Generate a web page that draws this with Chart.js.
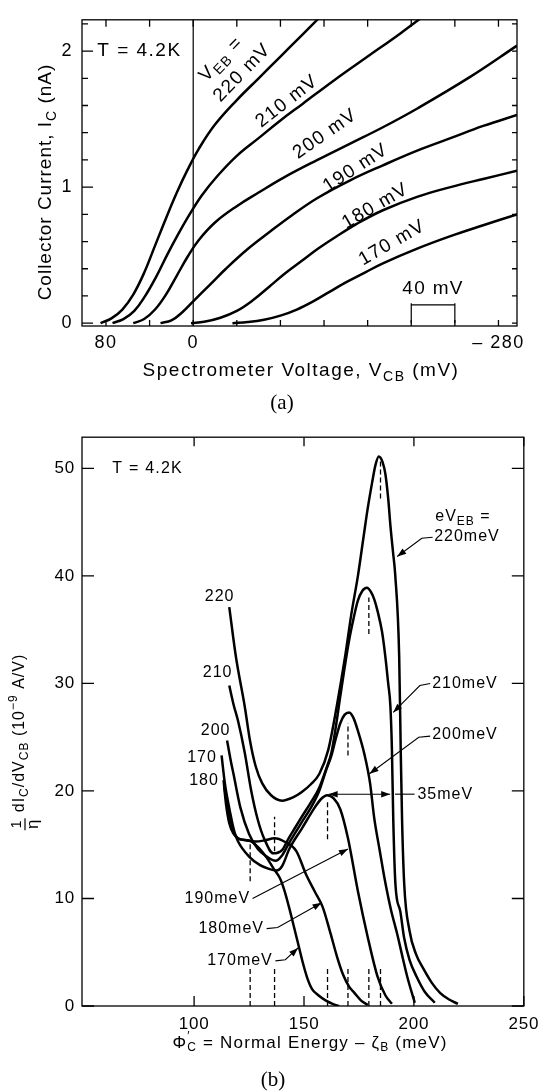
<!DOCTYPE html>
<html>
<head>
<meta charset="utf-8">
<title>Collector current and its derivative, T = 4.2K</title>
<script src="https://cdn.jsdelivr.net/npm/chart.js@4.4.1/dist/chart.umd.min.js"></script>
<style>
  html, body { margin: 0; padding: 0; background: #fff; }
  #page { position: relative; width: 546px; height: 1092px; overflow: hidden; }
  canvas { position: absolute; left: 0; }
  #chartA { top: 0; }
  #chartB { top: 420px; }
</style>
</head>
<body>
<div id="page">
  <canvas id="chartA" width="546" height="420"></canvas>
  <canvas id="chartB" width="546" height="672"></canvas>
</div>
<script>
// ---- (a) collector current I_C (nA) vs spectrometer voltage V_CB (mV) ----
const a220V = [85, 75, 65, 55, 45, 35, 25, 15, 5, -5, -20, -40, -60, -80, -100, -115];
const a220I = [0, 0.035, 0.1, 0.21, 0.37, 0.57, 0.77, 0.96, 1.13, 1.28, 1.46, 1.64, 1.8, 1.96, 2.12, 2.24];
const a210V = [74, 64, 54, 44, 34, 24, 14, 4, -8, -22, -40, -60, -80, -100, -130, -160, -190, -215];
const a210I = [0, 0.03, 0.09, 0.2, 0.34, 0.5, 0.65, 0.79, 0.94, 1.08, 1.23, 1.36, 1.49, 1.61, 1.79, 1.96, 2.13, 2.28];
const a200V = [55, 45, 35, 25, 15, 5, -5, -20, -40, -60, -83, -114, -144, -174, -206, -254, -297];
const a200I = [0, 0.03, 0.1, 0.21, 0.35, 0.49, 0.61, 0.74, 0.86, 0.96, 1.07, 1.2, 1.32, 1.44, 1.58, 1.81, 2.04];
const a190V = [30, 20, 10, 0, -15, -30, -50, -70, -90, -114, -144, -174, -206, -236, -266, -297];
const a190I = [0, 0.02, 0.08, 0.16, 0.28, 0.4, 0.545, 0.67, 0.79, 0.92, 1.05, 1.16, 1.27, 1.36, 1.45, 1.53];
const a180V = [2, -10, -25, -40, -55, -70, -85, -100, -115, -130, -150, -174, -206, -236, -266, -297];
const a180I = [0, 0.01, 0.04, 0.09, 0.17, 0.27, 0.37, 0.46, 0.55, 0.63, 0.73, 0.83, 0.93, 1.0, 1.06, 1.12];
const a170V = [-36, -50, -65, -80, -95, -110, -125, -140, -157, -174, -206, -236, -266, -297];
const a170I = [0, 0.008, 0.025, 0.055, 0.1, 0.16, 0.23, 0.3, 0.37, 0.44, 0.55, 0.64, 0.72, 0.8];

const aTickX = [80, 40, 0, -40, -80, -120, -160, -200, -240, -280];
const aTickXLabels = ['80', '', '0', '', '', '', '', '', '', '\u2013 280'];
const aTickY = [0, 0.2, 0.4, 0.6, 0.8, 1, 1.2, 1.4, 1.6, 1.8, 2, 2.2];
const aTickYLabels = ['0', '', '', '', '', '1', '', '', '', '', '2', ''];

// ---- (b) (1/eta) dI_C/dV_CB (1e-9 A/V) vs normal energy (meV) ----
const b220E = [116, 119, 123, 125.5, 128, 131, 135, 140, 145, 149, 153, 157, 161, 165, 168.7, 171.5, 174.6, 177, 179, 181, 182.5, 184, 185.7, 187, 188.3, 189.3, 190.5, 191.5, 193.3, 194, 194.6, 195.6, 198, 201, 204.5, 208, 212, 216, 220];
const b220G = [37.1, 32.5, 27.9, 24.6, 22.3, 20.7, 19.6, 19.1, 19.4, 19.9, 20.6, 21.6, 23.8, 28.0, 32.5, 36.4, 40.1, 43.5, 46.3, 48.7, 50.3, 51.1, 50.6, 49.5, 47.2, 44.7, 42.2, 40.1, 32.5, 23.8, 17.4, 11.3, 7.0, 4.8, 3.4, 2.2, 1.2, 0.6, 0.2];
const b210E = [116, 118, 120, 123, 126, 129, 132, 136, 140, 143, 146, 149, 153, 156.7, 160, 162.5, 164.5, 166.5, 168.5, 170.5, 172.5, 174.5, 176.5, 178.6, 180.5, 182, 183.5, 185.5, 187, 188.3, 189.3, 190, 190.6, 191.6, 193.8, 195.5, 198, 201.3, 205, 209.5];
const b210G = [29.8, 28, 26.5, 23.6, 20, 17.3, 15.5, 14.2, 14.5, 15.6, 16.6, 17.6, 18.9, 20.2, 22, 23.6, 26, 28.8, 31.5, 34, 36, 37.7, 38.6, 38.9, 38.5, 37.8, 36.7, 34.8, 32.5, 30, 27.9, 23.8, 17.4, 11.3, 8.8, 6.4, 4.3, 2.7, 1.3, 0.3];
const b200E = [115, 116.5, 118, 121, 125, 129, 133, 137, 140, 143.3, 146, 149, 153, 156.7, 160, 162.5, 164.5, 166.5, 168.5, 170.5, 172.5, 174.5, 177.5, 180, 182, 184.5, 186.6, 189.5, 192.4, 195, 197, 200.4];
const b200G = [24.7, 23, 21.5, 18.5, 16, 14.6, 13.9, 13.5, 14.0, 15.2, 16.1, 17.1, 18.4, 19.9, 21.9, 23.3, 24.9, 26.3, 27.1, 27.3, 26.8, 25.6, 23.4, 20.8, 17.4, 14.4, 11.9, 9.0, 6.7, 4.4, 2.7, 0.3];
const b190E = [113.8, 115, 117, 120, 125, 130, 134, 137.4, 140, 143.3, 149, 155, 158, 160.5, 163.5, 166.5, 170, 174.5, 179, 183.5, 187, 190];
const b190G = [20.3, 18.8, 16.9, 15.3, 13.9, 13.1, 12.75, 12.6, 13.0, 14.6, 16.5, 18.5, 19.3, 19.6, 19.3, 18.3, 15.6, 10.7, 6.4, 2.7, 1.0, 0.2];
const b180E = [113.4, 114.5, 116, 118, 120, 124, 128, 132, 136.6, 141, 146.5, 151, 155, 158.5, 162, 165, 167.8, 170.5, 173, 176, 179];
const b180G = [21, 18.8, 17.0, 16.0, 15.6, 15.4, 15.3, 15.4, 15.6, 15.3, 14.4, 12.2, 10.6, 9.2, 6.8, 4.6, 2.9, 1.8, 1.2, 0.5, 0.1];
const b170E = [112.5, 114, 116, 118.8, 121, 125, 129, 133, 136.1, 139, 141, 143.3, 145.5, 147.8, 149.5, 151.5, 153.6, 156.5, 160, 163, 166];
const b170G = [23.3, 20.7, 18.4, 15.9, 15.5, 15.4, 14.8, 13.8, 12.8, 11.9, 10.8, 9.1, 7.3, 5.4, 4.0, 2.6, 1.6, 1.0, 0.5, 0.2, 0];

// peak positions (dashed markers) and the marker spans
const bPeakE = [125.5, 136.6, 160.7, 170, 179.5, 184.8];
const bPeakLo = [11.6, 14.4, 15.5, 23.3, 34.6, 47.2];
const bPeakHi = [15.4, 17.6, 19.2, 26.3, 38, 50.9];
const bBaseMark = 3.6;

const bTickX = [100, 150, 200, 250];
const bTickXLabels = ['100', '150', '200', '250'];
const bTickY = [0, 10, 20, 30, 40, 50];
const bTickYLabels = ['0', '10', '20', '30', '40', '50'];

// axis ranges
const aXMin = -297, aXMax = 102, aYMin = -0.021, aYMax = 2.23;
const bXMin = 49, bXMax = 250, bYMin = 0, bYMax = 52.9;

const SANS = '"Liberation Sans", Arial, Helvetica, sans-serif';
const SERIF = '"Liberation Serif", "Times New Roman", serif';
Chart.defaults.font.family = SANS;
Chart.defaults.color = '#000';

function pts(xs, ys) {
    return xs.map((x, i) => ({ x: x, y: ys[i] }));
}

function curve(xs, ys, mode) {
    return {
        data: pts(xs, ys), borderColor: '#000', borderWidth: 2.5, pointRadius: 0, fill: false,
        cubicInterpolationMode: mode, tension: 0.4
    };
}

// text with sub/superscripts; parts are strings or {t, sub, sup, keep}
function segFont(s, size, family) {
    return ((s.sub || s.sup) ? Math.round(size * 0.72) : size) + 'px ' + (family || SANS);
}
function measure(ctx, parts, o) {
    let w = 0;
    ctx.save();
    ctx.letterSpacing = (o.sp || 0) + 'px';
    parts.forEach(p => {
        const s = typeof p === 'string' ? { t: p } : p;
        ctx.font = segFont(s, o.size, o.family);
        if (!s.keep) w += ctx.measureText(s.t).width;
    });
    ctx.restore();
    return w;
}
function label(ctx, parts, x, y, o) {
    const w = measure(ctx, parts, o);
    ctx.save();
    ctx.translate(x, y);
    if (o.rot) ctx.rotate(o.rot * Math.PI / 180);
    ctx.letterSpacing = (o.sp || 0) + 'px';
    ctx.fillStyle = '#000';
    ctx.textAlign = 'left';
    ctx.textBaseline = 'middle';
    let cx = o.align === 'left' ? 0 : o.align === 'right' ? -w : -w / 2;
    parts.forEach(p => {
        const s = typeof p === 'string' ? { t: p } : p;
        ctx.font = segFont(s, o.size, o.family);
        const dy = s.sub ? o.size * 0.3 : s.sup ? -o.size * 0.38 : 0;
        ctx.fillText(s.t, cx, dy);
        if (!s.keep) cx += ctx.measureText(s.t).width;
    });
    ctx.restore();
}

function head(ctx, from, to) {
    const a = Math.atan2(to[1] - from[1], to[0] - from[0]), L = 9, W = 3.2;
    const c = Math.cos(a), s = Math.sin(a);
    ctx.beginPath();
    ctx.moveTo(to[0], to[1]);
    ctx.lineTo(to[0] - L * c + W * s, to[1] - L * s - W * c);
    ctx.lineTo(to[0] - L * c - W * s, to[1] - L * s + W * c);
    ctx.closePath();
    ctx.fill();
}
function arrow(ctx, p, heads) {
    ctx.beginPath();
    p.forEach((q, i) => i ? ctx.lineTo(q[0], q[1]) : ctx.moveTo(q[0], q[1]));
    ctx.stroke();
    if (heads === 'end' || heads === 'both') head(ctx, p[p.length - 2], p[p.length - 1]);
    if (heads === 'both') head(ctx, p[1], p[0]);
}

// box, inward ticks on all four sides, then the notes
function framePlugin(o) {
    return {
        id: 'frame',
        beforeDraw(chart) { chart.ctx.letterSpacing = o.sp + 'px'; },
        afterDraw(chart) {
            const ctx = chart.ctx, a = chart.chartArea, xs = chart.scales.x, ys = chart.scales.y;
            ctx.save();
            ctx.letterSpacing = '0px';
            ctx.strokeStyle = '#000';
            ctx.lineWidth = 1.3;
            ctx.strokeRect(a.left, a.top, a.right - a.left, a.bottom - a.top);
            ctx.beginPath();
            ys.ticks.forEach((t, i) => {
                const p = ys.getPixelForValue(t.value);
                ctx.moveTo(a.left, p);
                ctx.lineTo(a.left + (o.yBig(i) ? o.yLen : o.yLenMinor), p);
                ctx.moveTo(a.right, p);
                ctx.lineTo(a.right - o.yLenRight, p);
            });
            xs.ticks.forEach(t => {
                const p = xs.getPixelForValue(t.value);
                ctx.moveTo(p, a.bottom);
                ctx.lineTo(p, a.bottom - o.xLen);
                ctx.moveTo(p, a.top);
                ctx.lineTo(p, a.top + o.xLenTop);
            });
            ctx.stroke();
            ctx.restore();
            ctx.save();
            ctx.strokeStyle = '#000';
            ctx.fillStyle = '#000';
            o.notes(chart, ctx, v => xs.getPixelForValue(v), v => ys.getPixelForValue(v));
            ctx.restore();
        }
    };
}

// ---- notes for (a) ----
const aNotes = [
    { parts: ['V', { t: 'EB', sub: 1 }, ' ='], x: -25.7, y: 1.94, rot: -46 },
    { parts: ['220 mV'], x: -45, y: 1.84, rot: -46 },
    { parts: ['210 mV'], x: -86, y: 1.63, rot: -38 },
    { parts: ['200 mV'], x: -121, y: 1.39, rot: -35 },
    { parts: ['190 mV'], x: -149, y: 1.14, rot: -33 },
    { parts: ['180 mV'], x: -167, y: 0.86, rot: -30 },
    { parts: ['170 mV'], x: -182.5, y: 0.59, rot: -30 }
];
const aBarFrom = -200, aBarTo = -240, aBarLevel = 0.134;

function notesA(chart, ctx, X, Y) {
    label(ctx, ['T = 4.2K'], X(88), Y(2.0), { size: 19, sp: 1.5, align: 'left' });
    aNotes.forEach(n => label(ctx, n.parts, X(n.x), Y(n.y), { size: 19, sp: 1.3, rot: n.rot }));
    // 40 mV scale bar
    ctx.lineWidth = 1.2;
    ctx.beginPath();
    ctx.moveTo(X(aBarFrom), Y(0));
    ctx.lineTo(X(aBarFrom), Y(aBarLevel + 0.012));
    ctx.moveTo(X(aBarFrom), Y(aBarLevel));
    ctx.lineTo(X(aBarTo), Y(aBarLevel));
    ctx.moveTo(X(aBarTo), Y(0));
    ctx.lineTo(X(aBarTo), Y(aBarLevel + 0.012));
    ctx.stroke();
    label(ctx, ['40 mV'], X((aBarFrom + aBarTo) / 2), Y(0.25), { size: 19, sp: 1.3 });
    // axis titles and panel tag
    label(ctx, ['Collector Current, I', { t: 'C', sub: 1 }, ' (nA)'], 46, 182, { size: 19, sp: 1, rot: -90 });
    label(ctx, ['Spectrometer Voltage, V', { t: 'CB', sub: 1 }, ' (mV)'], 301, 371, { size: 19, sp: 1.5 });
    label(ctx, ['(a)'], 282, 403, { size: 21, family: SERIF });
}

// ---- notes for (b) ----
const bStartNotes = [
    { t: '220', x: 111.6, y: 38.1 },
    { t: '210', x: 110.7, y: 31.0 },
    { t: '200', x: 109.8, y: 25.6 },
    { t: '170', x: 103.6, y: 23.1 },
    { t: '180', x: 104.5, y: 21.0 }
];
const bSideNotes = [
    { parts: ['eV', { t: 'EB', sub: 1 }, ' ='], x: 209.7, y: 45.5, align: 'left' },
    { parts: ['220meV'], x: 209.2, y: 43.7, align: 'left' },
    { parts: ['210meV'], x: 208.3, y: 30.0, align: 'left' },
    { parts: ['200meV'], x: 208.3, y: 25.2, align: 'left' },
    { parts: ['35meV'], x: 201.6, y: 19.7, align: 'left' },
    { parts: ['190meV'], x: 125.5, y: 10.0, align: 'right' },
    { parts: ['180meV'], x: 131.8, y: 7.2, align: 'right' },
    { parts: ['170meV'], x: 135.8, y: 4.2, align: 'right' }
];
const bArrows = [
    { p: [[208.5, 43.6], [203.6, 43.5], [192.4, 41.8]], h: 'end' },
    { p: [[207.4, 30.0], [202.7, 29.8], [190.6, 27.3]], h: 'end' },
    { p: [[207.4, 25.1], [202.2, 25.0], [179.8, 21.6]], h: 'end' },
    { p: [[161.2, 19.7], [189.2, 19.7]], h: 'both' },
    { p: [[191.4, 19.7], [200.3, 19.7]], h: 'none' },
    { p: [[126.6, 10.0], [170.0, 14.6]], h: 'end' },
    { p: [[133.0, 7.2], [138.0, 7.3], [158.0, 9.6]], h: 'end' },
    { p: [[137.0, 4.2], [141.5, 4.3], [147.3, 5.4]], h: 'end' }
];

function titleYB(ctx) {
    const size = 16;
    const main = ['dI', { t: 'C', sub: 1 }, '/dV', { t: 'CB', sub: 1 }, ' (10', { t: '\u22129', sup: 1 }, ' A/V)'];
    const mw = measure(ctx, main, { size: size, sp: 1 });
    const fw = 12, gap = 6, x0 = -(fw + gap + mw) / 2;
    ctx.save();
    ctx.translate(20, 322);
    ctx.rotate(-Math.PI / 2);
    ctx.lineWidth = 1.2;
    ctx.beginPath();
    ctx.moveTo(x0, 5);
    ctx.lineTo(x0 + fw, 5);
    ctx.stroke();
    label(ctx, ['1'], x0 + fw / 2, -3, { size: 14 });
    label(ctx, ['\u03b7'], x0 + fw / 2, 13, { size: 17 });
    label(ctx, main, x0 + fw + gap, 0, { size: size, sp: 1, align: 'left' });
    ctx.restore();
}

function notesB(chart, ctx, X, Y) {
    label(ctx, ['T = 4.2K'], X(62.8), Y(50), { size: 16, sp: 1.2, align: 'left' });
    bStartNotes.forEach(n => label(ctx, [n.t], X(n.x), Y(n.y), { size: 16, sp: 1 }));
    bSideNotes.forEach(n => label(ctx, n.parts, X(n.x), Y(n.y), { size: 16, sp: 1, align: n.align }));
    ctx.lineWidth = 1.1;
    bArrows.forEach(a => arrow(ctx, a.p.map(q => [X(q[0]), Y(q[1])]), a.h));
    titleYB(ctx);
    label(ctx, ['\u03a6', { t: '\u2032', sup: 1, keep: 1 }, { t: 'C', sub: 1 }, ' = Normal Energy \u2013 \u03b6', { t: 'B', sub: 1 }, ' (meV)'],
        310, 623, { size: 17, sp: 1.2 });
    label(ctx, ['(b)'], 273, 660, { size: 21, family: SERIF });
}

document.addEventListener('DOMContentLoaded', function() {
    // panel (a)
    const aSets = [
        { data: [{ x: 0, y: aYMin }, { x: 0, y: aYMax }], borderColor: '#000', borderWidth: 1.2, pointRadius: 0, fill: false },
        curve(a220V, a220I, 'default'), curve(a210V, a210I, 'default'), curve(a200V, a200I, 'default'),
        curve(a190V, a190I, 'default'), curve(a180V, a180I, 'default'), curve(a170V, a170I, 'default')
    ];
    new Chart(document.getElementById('chartA'), {
        type: 'line',
        data: { datasets: aSets },
        options: {
            responsive: false, animation: false, devicePixelRatio: 1,
            layout: { padding: { left: 0, top: 7, right: 29, bottom: 0 } },
            plugins: { legend: { display: false }, tooltip: { enabled: false } },
            scales: {
                x: {
                    type: 'linear', reverse: true, min: aXMin, max: aXMax,
                    grid: { display: false, drawTicks: false }, border: { display: false },
                    ticks: { autoSkip: false, maxRotation: 0, padding: 6, font: { size: 18 }, color: '#000',
                        callback: (v, i) => aTickXLabels[i] },
                    afterBuildTicks: s => { s.ticks = aTickX.map(v => ({ value: v })); },
                    afterFit: s => { s.height = 94; }
                },
                y: {
                    type: 'linear', min: aYMin, max: aYMax,
                    grid: { display: false, drawTicks: false }, border: { display: false },
                    ticks: { autoSkip: false, padding: 9, font: { size: 18 }, color: '#000',
                        callback: (v, i) => aTickYLabels[i] },
                    afterBuildTicks: s => { s.ticks = aTickY.map(v => ({ value: v })); },
                    afterFit: s => { s.width = 82; }
                }
            }
        },
        plugins: [framePlugin({
            sp: 1.5, yBig: i => aTickYLabels[i] !== '', yLen: 11, yLenMinor: 6, yLenRight: 5,
            xLen: 6, xLenTop: 7, notes: notesA
        })]
    });

    // panel (b)
    const bSets = [
        curve(b220E, b220G, 'monotone'), curve(b210E, b210G, 'monotone'), curve(b200E, b200G, 'monotone'),
        curve(b190E, b190G, 'monotone'), curve(b180E, b180G, 'monotone'), curve(b170E, b170G, 'monotone')
    ];
    bPeakE.forEach((e, i) => {
        bSets.push({
            data: [{ x: e, y: 0 }, { x: e, y: bBaseMark }, { x: e, y: null }, { x: e, y: bPeakLo[i] }, { x: e, y: bPeakHi[i] }],
            borderColor: '#000', borderWidth: 1.3, borderDash: [5, 3], pointRadius: 0, fill: false, spanGaps: false
        });
    });
    new Chart(document.getElementById('chartB'), {
        type: 'line',
        data: { datasets: bSets },
        options: {
            responsive: false, animation: false, devicePixelRatio: 1,
            layout: { padding: { left: 0, top: 12, right: 15, bottom: 0 } },
            plugins: { legend: { display: false }, tooltip: { enabled: false } },
            scales: {
                x: {
                    type: 'linear', min: bXMin, max: bXMax,
                    grid: { display: false, drawTicks: false }, border: { display: false },
                    ticks: { autoSkip: false, maxRotation: 0, padding: 8, font: { size: 17 }, color: '#000',
                        callback: (v, i) => bTickXLabels[i] },
                    afterBuildTicks: s => { s.ticks = bTickX.map(v => ({ value: v })); },
                    afterFit: s => { s.height = 86; }
                },
                y: {
                    type: 'linear', min: bYMin, max: bYMax,
                    grid: { display: false, drawTicks: false }, border: { display: false },
                    ticks: { autoSkip: false, padding: 7, font: { size: 17 }, color: '#000',
                        callback: (v, i) => bTickYLabels[i] },
                    afterBuildTicks: s => { s.ticks = bTickY.map(v => ({ value: v })); },
                    afterFit: s => { s.width = 82; }
                }
            }
        },
        plugins: [framePlugin({
            sp: 0.8, yBig: () => true, yLen: 12, yLenMinor: 12, yLenRight: 12,
            xLen: 10, xLenTop: 9, notes: notesB
        })]
    });
});
</script>
</body>
</html>
